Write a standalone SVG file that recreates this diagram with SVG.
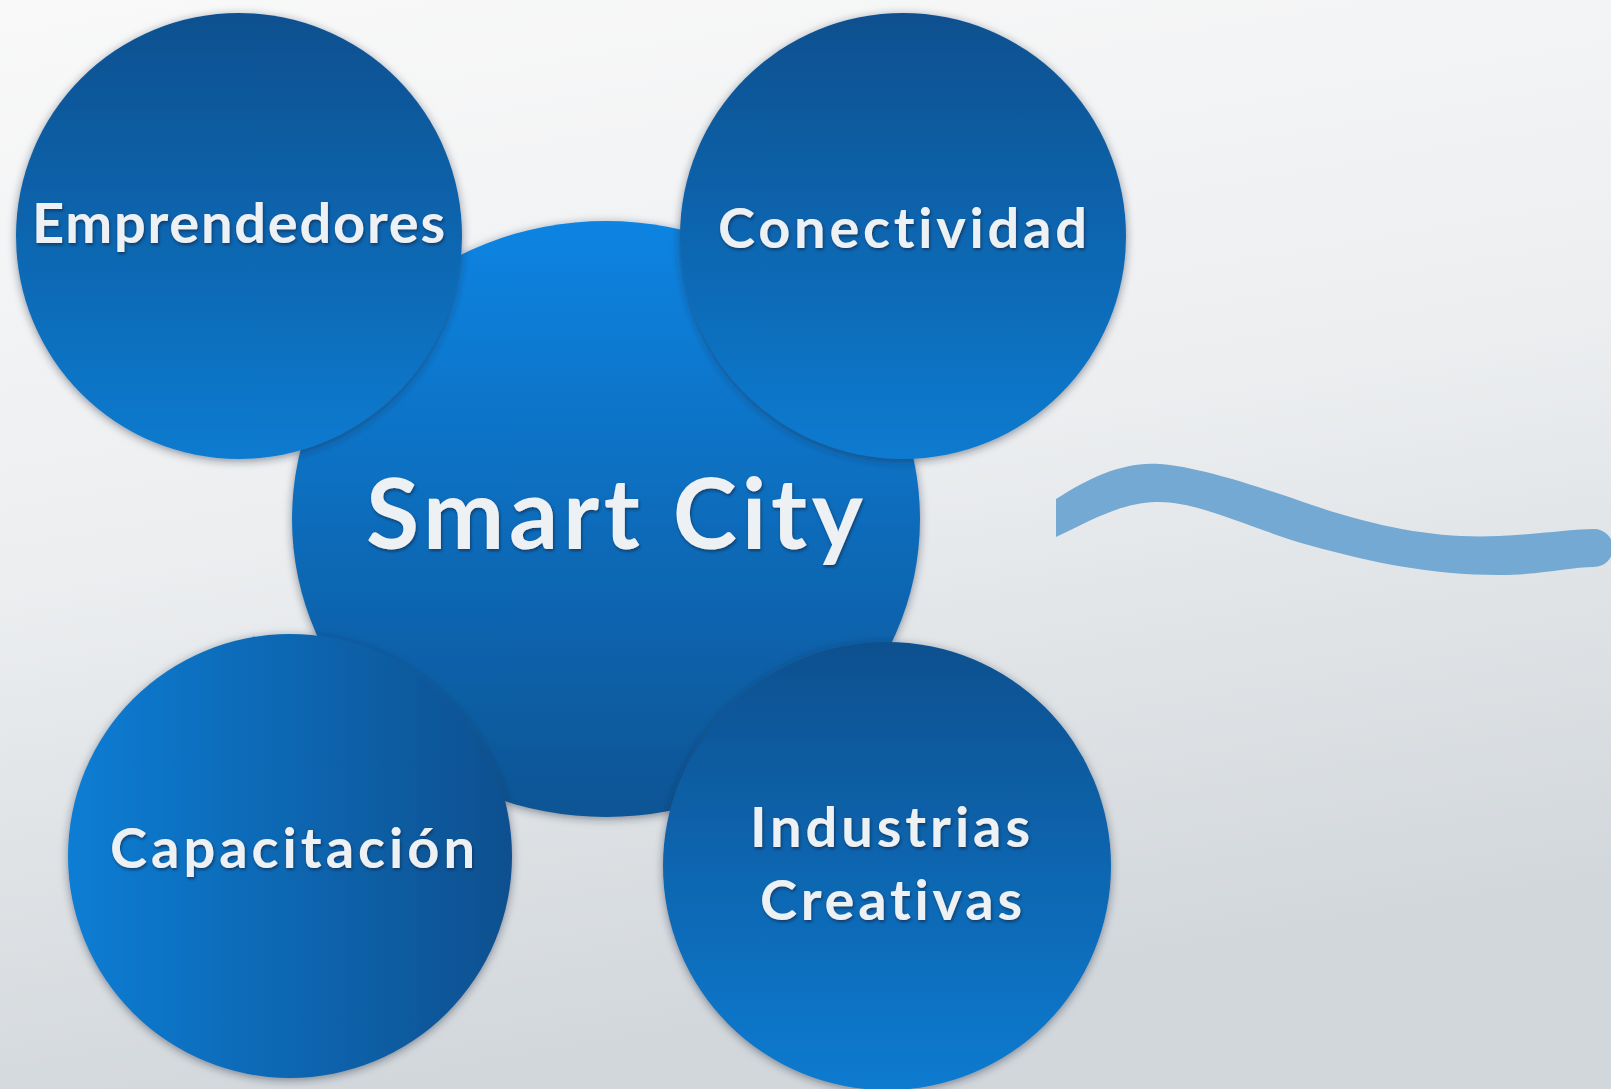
<svg xmlns="http://www.w3.org/2000/svg" width="1611" height="1089" viewBox="0 0 1611 1089">
  <style>
    .lbl { font-family: Lato, "Open Sans", "Liberation Sans", sans-serif; font-weight: 700; fill: #eef1f4; filter: url(#ts); font-variant-ligatures: none; font-feature-settings: "liga" 0, "clig" 0, "dlig" 0; }
    .sat { font-size: 56px; }
    .main { font-size: 97px; }
    .node circle, .node ellipse { filter: url(#ds); }
  </style>
  <defs>
    <linearGradient id="bg" x1="0" y1="0" x2="0.25" y2="1">
      <stop offset="0" stop-color="#f9f9f9"/>
      <stop offset="0.5" stop-color="#eceef0"/>
      <stop offset="1" stop-color="#d2d7db"/>
    </linearGradient>
    <linearGradient id="gDown" x1="0" y1="0" x2="0" y2="1">
      <stop offset="0" stop-color="#08508f"/>
      <stop offset="1" stop-color="#0a7bd0"/>
    </linearGradient>
    <linearGradient id="gUp" x1="0" y1="0" x2="0" y2="1">
      <stop offset="0" stop-color="#0a84e2"/>
      <stop offset="1" stop-color="#085494"/>
    </linearGradient>
    <linearGradient id="gSide" x1="0" y1="0" x2="1" y2="0">
      <stop offset="0" stop-color="#0a7dd4"/>
      <stop offset="1" stop-color="#08508f"/>
    </linearGradient>
    <filter id="ds" x="-10%" y="-10%" width="120%" height="120%">
      <feDropShadow dx="0" dy="2" stdDeviation="4" flood-color="#1a2a3a" flood-opacity="0.5"/>
    </filter>
    <filter id="ts" x="-5%" y="-20%" width="110%" height="140%">
      <feDropShadow dx="1" dy="2" stdDeviation="1.5" flood-color="#0a2a4a" flood-opacity="0.7"/>
    </filter>
  </defs>

  <rect x="0" y="0" width="1611" height="1089" fill="url(#bg)"/>

  <g id="connectors">
    <path id="wave" fill="#73a9d2" d="M1056,499 C1090,477 1125,461 1160,464 C1200,467 1260,487 1312,505 C1380,528 1440,539 1499,536 C1540,534 1575,529 1594,529 A19,19 0 0 1 1594,567 C1570,567 1540,575 1499,575 C1430,575 1370,562 1312,546 C1250,529 1200,501 1156,502 C1120,503 1090,521 1056,537 Z"/>
  </g>

  <g id="node-smart-city" class="node">
    <ellipse cx="606" cy="519" rx="314" ry="298" fill="url(#gUp)"/>
    <text class="lbl main" x="614.5" y="549" text-anchor="middle" textLength="497" lengthAdjust="spacing">Smart City</text>
  </g>

  <g id="node-emprendedores" class="node">
    <circle cx="239" cy="236" r="223" fill="url(#gDown)"/>
    <text class="lbl sat" x="238.5" y="243" text-anchor="middle" font-size="54" textLength="413" lengthAdjust="spacing">Emprendedores</text>
  </g>

  <g id="node-conectividad" class="node">
    <circle cx="903" cy="236" r="223" fill="url(#gDown)"/>
    <text class="lbl sat" x="902.5" y="248" text-anchor="middle" textLength="369" lengthAdjust="spacing">Conectividad</text>
  </g>

  <g id="node-capacitacion" class="node">
    <circle cx="290" cy="856" r="222" fill="url(#gSide)"/>
    <text class="lbl sat" x="292.5" y="868" text-anchor="middle" textLength="365" lengthAdjust="spacing">Capacitación</text>
  </g>

  <g id="node-industrias" class="node">
    <circle cx="887" cy="866" r="224" fill="url(#gDown)"/>
    <text class="lbl sat" x="890" y="847" text-anchor="middle" textLength="280" lengthAdjust="spacing">Industrias</text>
    <text class="lbl sat" x="891" y="920" text-anchor="middle" textLength="262" lengthAdjust="spacing">Creativas</text>
  </g>
</svg>
